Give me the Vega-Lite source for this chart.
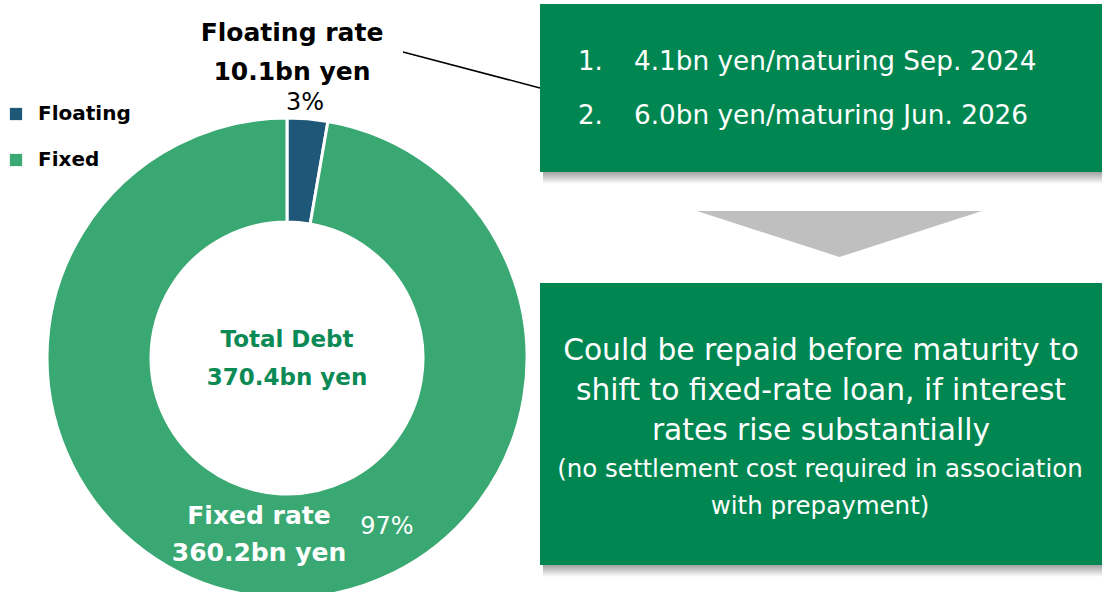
{
  "$schema": "https://vega.github.io/schema/vega-lite/v6.json",
  "width": 1102,
  "height": 592,
  "padding": 0,
  "autosize": {"type": "none"},
  "background": "white",
  "config": {
    "view": {"stroke": null},
    "axis": {"disable": true},
    "font": "DejaVu Sans",
    "text": {"font": "DejaVu Sans"}
  },
  "datasets": {
    "debt": [
      {"type": "Floating", "amount": 10.1},
      {"type": "Fixed", "amount": 360.2}
    ],
    "one": [{}]
  },
  "layer": [
    {
      "data": {"name": "one"},
      "mark": {"type": "rect", "fill": {"gradient": "linear", "x1": 0, "y1": 0, "x2": 0, "y2": 1, "stops": [{"offset": 0, "color": "#9a9a9a"}, {"offset": 1, "color": "#ffffff"}]}},
      "encoding": {
        "x": {"datum": 543, "type": "quantitative", "scale": {"domain": [0, 1102], "nice": false, "zero": false}},
        "x2": {"datum": 1102},
        "y": {"datum": 171, "type": "quantitative", "scale": {"domain": [0, 592], "reverse": true, "nice": false, "zero": false}},
        "y2": {"datum": 184}
      }
    },
    {
      "data": {"name": "one"},
      "mark": {"type": "rect", "fill": {"gradient": "linear", "x1": 0, "y1": 0, "x2": 0, "y2": 1, "stops": [{"offset": 0, "color": "#9a9a9a"}, {"offset": 1, "color": "#ffffff"}]}},
      "encoding": {
        "x": {"datum": 543, "type": "quantitative", "scale": {"domain": [0, 1102], "nice": false, "zero": false}},
        "x2": {"datum": 1102},
        "y": {"datum": 564, "type": "quantitative", "scale": {"domain": [0, 592], "reverse": true, "nice": false, "zero": false}},
        "y2": {"datum": 577}
      }
    },
    {
      "data": {"name": "one"},
      "mark": {"type": "rect", "fill": "#008751"},
      "encoding": {
        "x": {"datum": 540, "type": "quantitative", "scale": {"domain": [0, 1102], "nice": false, "zero": false}},
        "x2": {"datum": 1102},
        "y": {"datum": 4, "type": "quantitative", "scale": {"domain": [0, 592], "reverse": true, "nice": false, "zero": false}},
        "y2": {"datum": 172}
      }
    },
    {
      "data": {"name": "one"},
      "mark": {"type": "rect", "fill": "#008751"},
      "encoding": {
        "x": {"datum": 540, "type": "quantitative", "scale": {"domain": [0, 1102], "nice": false, "zero": false}},
        "x2": {"datum": 1102},
        "y": {"datum": 283, "type": "quantitative", "scale": {"domain": [0, 592], "reverse": true, "nice": false, "zero": false}},
        "y2": {"datum": 565}
      }
    },
    {
      "data": {"name": "one"},
      "mark": {"type": "point", "shape": "M -1 -0.1614 L 1 -0.1614 L 0 0.1614 Z", "size": 81225, "filled": true, "fill": "#bfbfbf", "opacity": 1, "strokeWidth": 0},
      "encoding": {
        "x": {"datum": 839.5, "type": "quantitative", "scale": {"domain": [0, 1102], "nice": false, "zero": false}},
        "y": {"datum": 234, "type": "quantitative", "scale": {"domain": [0, 592], "reverse": true, "nice": false, "zero": false}}
      }
    },
    {
      "data": {"name": "one"},
      "mark": {"type": "rule", "stroke": "#000000", "strokeWidth": 1.5},
      "encoding": {
        "x": {"datum": 403, "type": "quantitative", "scale": {"domain": [0, 1102], "nice": false, "zero": false}},
        "x2": {"datum": 540},
        "y": {"datum": 52, "type": "quantitative", "scale": {"domain": [0, 592], "reverse": true, "nice": false, "zero": false}},
        "y2": {"datum": 88}
      }
    },
    {
      "data": {"name": "debt"},
      "mark": {"type": "arc", "radius": 240, "radius2": 136, "stroke": "#ffffff", "strokeWidth": 3},
      "encoding": {
        "theta": {"field": "amount", "type": "quantitative", "stack": true},
        "order": {"field": "type", "sort": "descending"},
        "color": {
          "field": "type",
          "type": "nominal",
          "scale": {"domain": ["Floating", "Fixed"], "range": ["#1f5778", "#3aa872"]},
          "legend": {
            "orient": "none", "legendX": 6, "legendY": 104, "title": null,
            "symbolType": "square", "symbolSize": 150, "symbolStrokeWidth": 0, "symbolOpacity": 1,
            "labelFont": "DejaVu Sans", "labelFontSize": 20, "labelFontWeight": "bold", "labelColor": "#000000",
            "labelOffset": 12, "rowPadding": 26
          }
        },
        "x": {"datum": 287, "type": "quantitative", "scale": {"domain": [0, 1102], "nice": false, "zero": false}},
        "y": {"datum": 358, "type": "quantitative", "scale": {"domain": [0, 592], "reverse": true, "nice": false, "zero": false}}
      }
    },
    {
      "data": {"name": "one"},
      "mark": {"type": "text", "text": ["Floating rate", "10.1bn yen"], "fontSize": 25, "fontWeight": "bold", "color": "#000000", "align": "center", "baseline": "middle", "lineHeight": 39},
      "encoding": {
        "x": {"datum": 292, "type": "quantitative", "scale": {"domain": [0, 1102], "nice": false, "zero": false}},
        "y": {"datum": 33, "type": "quantitative", "scale": {"domain": [0, 592], "reverse": true, "nice": false, "zero": false}}
      }
    },
    {
      "data": {"name": "one"},
      "mark": {"type": "text", "text": "3%", "fontSize": 24, "color": "#000000", "align": "center", "baseline": "middle"},
      "encoding": {
        "x": {"datum": 305, "type": "quantitative", "scale": {"domain": [0, 1102], "nice": false, "zero": false}},
        "y": {"datum": 103, "type": "quantitative", "scale": {"domain": [0, 592], "reverse": true, "nice": false, "zero": false}}
      }
    },
    {
      "data": {"name": "one"},
      "mark": {"type": "text", "text": ["Total Debt", "370.4bn yen"], "fontSize": 23, "fontWeight": "bold", "color": "#0b8a55", "align": "center", "baseline": "middle", "lineHeight": 38},
      "encoding": {
        "x": {"datum": 287, "type": "quantitative", "scale": {"domain": [0, 1102], "nice": false, "zero": false}},
        "y": {"datum": 340, "type": "quantitative", "scale": {"domain": [0, 592], "reverse": true, "nice": false, "zero": false}}
      }
    },
    {
      "data": {"name": "one"},
      "mark": {"type": "text", "text": ["Fixed rate", "360.2bn yen"], "fontSize": 25, "fontWeight": "bold", "color": "#ffffff", "align": "center", "baseline": "middle", "lineHeight": 37},
      "encoding": {
        "x": {"datum": 259, "type": "quantitative", "scale": {"domain": [0, 1102], "nice": false, "zero": false}},
        "y": {"datum": 516, "type": "quantitative", "scale": {"domain": [0, 592], "reverse": true, "nice": false, "zero": false}}
      }
    },
    {
      "data": {"name": "one"},
      "mark": {"type": "text", "text": "97%", "fontSize": 24, "color": "#ffffff", "align": "center", "baseline": "middle"},
      "encoding": {
        "x": {"datum": 387, "type": "quantitative", "scale": {"domain": [0, 1102], "nice": false, "zero": false}},
        "y": {"datum": 527, "type": "quantitative", "scale": {"domain": [0, 592], "reverse": true, "nice": false, "zero": false}}
      }
    },
    {
      "data": {"name": "one"},
      "mark": {"type": "text", "text": ["1.", "2."], "fontSize": 26, "color": "#ffffff", "align": "left", "baseline": "middle", "lineHeight": 54},
      "encoding": {
        "x": {"datum": 578, "type": "quantitative", "scale": {"domain": [0, 1102], "nice": false, "zero": false}},
        "y": {"datum": 62, "type": "quantitative", "scale": {"domain": [0, 592], "reverse": true, "nice": false, "zero": false}}
      }
    },
    {
      "data": {"name": "one"},
      "mark": {"type": "text", "text": ["4.1bn yen/maturing Sep. 2024", "6.0bn yen/maturing Jun. 2026"], "fontSize": 26.3, "color": "#ffffff", "align": "left", "baseline": "middle", "lineHeight": 54},
      "encoding": {
        "x": {"datum": 634, "type": "quantitative", "scale": {"domain": [0, 1102], "nice": false, "zero": false}},
        "y": {"datum": 62, "type": "quantitative", "scale": {"domain": [0, 592], "reverse": true, "nice": false, "zero": false}}
      }
    },
    {
      "data": {"name": "one"},
      "mark": {"type": "text", "text": ["Could be repaid before maturity to", "shift to fixed-rate loan, if interest", "rates rise substantially"], "fontSize": 29.7, "color": "#ffffff", "align": "center", "baseline": "middle", "lineHeight": 40},
      "encoding": {
        "x": {"datum": 821, "type": "quantitative", "scale": {"domain": [0, 1102], "nice": false, "zero": false}},
        "y": {"datum": 351, "type": "quantitative", "scale": {"domain": [0, 592], "reverse": true, "nice": false, "zero": false}}
      }
    },
    {
      "data": {"name": "one"},
      "mark": {"type": "text", "text": ["(no settlement cost required in association", "with prepayment)"], "fontSize": 24.5, "color": "#ffffff", "align": "center", "baseline": "middle", "lineHeight": 37},
      "encoding": {
        "x": {"datum": 820, "type": "quantitative", "scale": {"domain": [0, 1102], "nice": false, "zero": false}},
        "y": {"datum": 470, "type": "quantitative", "scale": {"domain": [0, 592], "reverse": true, "nice": false, "zero": false}}
      }
    }
  ]
}
